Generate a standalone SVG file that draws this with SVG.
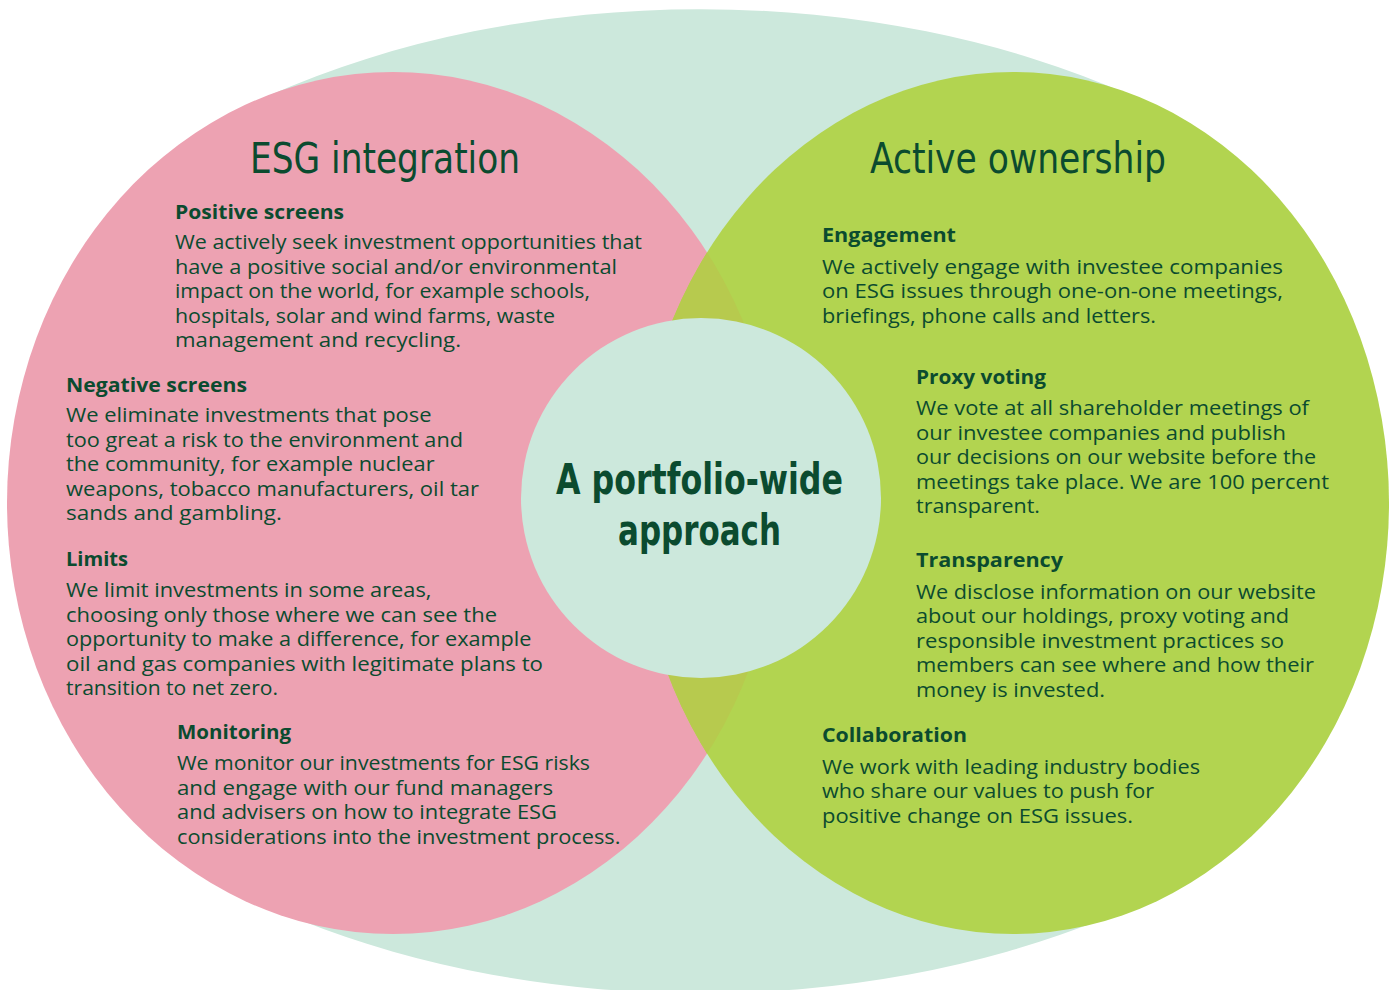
<svg xmlns="http://www.w3.org/2000/svg" width="1396" height="990" viewBox="0 0 1396 990">
  <defs>
    <style>
      .title { font-family: 'DejaVu Sans Condensed', 'DejaVu Sans', sans-serif; font-stretch: condensed; font-size: 43px; fill: #0b4b2f; }
      .center { font-family: 'DejaVu Sans Condensed', 'DejaVu Sans', sans-serif; font-stretch: condensed; font-weight: bold; font-size: 43px; fill: #0b4b2f; }
      .hd { font-family: 'Open Sans', 'Noto Sans', sans-serif; font-weight: 700; font-size: 20px; fill: #0b4b2f; }
      .bd { font-family: 'Open Sans', 'Noto Sans', sans-serif; font-weight: 400; font-size: 20px; fill: #0b4b2f; }
    </style>
    <clipPath id="greenClip">
      <ellipse cx="1013" cy="503" rx="376" ry="431"/>
    </clipPath>
  </defs>

  <rect x="0" y="0" width="1396" height="990" fill="#ffffff"/>

  <g id="background">
    <path d="M 268 96 A 760 490 0 0 1 1132 96 L 1090 300 L 1090 800 L 1100 920 A 760 490 0 0 1 300 920 L 320 800 L 320 300 Z" fill="#cce8dc"/>
  </g>

  <g id="esg-integration">
    <ellipse cx="393" cy="503" rx="386" ry="431" fill="#eda2b2"/>
  </g>

  <g id="active-ownership">
    <ellipse cx="1013" cy="503" rx="376" ry="431" fill="#b2d450"/>
  </g>

  <g id="overlap">
    <ellipse cx="393" cy="503" rx="386" ry="431" fill="#b7ca4e" clip-path="url(#greenClip)"/>
  </g>

  <g id="portfolio-wide">
    <circle cx="701" cy="498" r="180" fill="#cce8dc"/>
    <text class="center" x="556" y="494" textLength="287" lengthAdjust="spacingAndGlyphs">A portfolio-wide</text>
    <text class="center" x="618" y="545" textLength="163" lengthAdjust="spacingAndGlyphs">approach</text>
  </g>

  <g id="esg-integration-text">
    <text class="title" x="250" y="173" textLength="270" lengthAdjust="spacingAndGlyphs">ESG integration</text>

    <g id="positive-screens">
      <text class="hd" x="175" y="219" textLength="169" lengthAdjust="spacingAndGlyphs">Positive screens</text>
      <text class="bd" x="175" y="249" textLength="467" lengthAdjust="spacingAndGlyphs">We actively seek investment opportunities that</text>
      <text class="bd" x="175" y="273.6" textLength="442" lengthAdjust="spacingAndGlyphs">have a positive social and/or environmental</text>
      <text class="bd" x="175" y="298.2" textLength="415" lengthAdjust="spacingAndGlyphs">impact on the world, for example schools,</text>
      <text class="bd" x="175" y="322.8" textLength="380" lengthAdjust="spacingAndGlyphs">hospitals, solar and wind farms, waste</text>
      <text class="bd" x="175" y="347.4" textLength="286" lengthAdjust="spacingAndGlyphs">management and recycling.</text>
    </g>

    <g id="negative-screens">
      <text class="hd" x="66" y="392" textLength="181" lengthAdjust="spacingAndGlyphs">Negative screens</text>
      <text class="bd" x="66" y="422" textLength="365.5" lengthAdjust="spacingAndGlyphs">We eliminate investments that pose</text>
      <text class="bd" x="66" y="446.6" textLength="397" lengthAdjust="spacingAndGlyphs">too great a risk to the environment and</text>
      <text class="bd" x="66" y="471.2" textLength="368.6" lengthAdjust="spacingAndGlyphs">the community, for example nuclear</text>
      <text class="bd" x="66" y="495.8" textLength="413" lengthAdjust="spacingAndGlyphs">weapons, tobacco manufacturers, oil tar</text>
      <text class="bd" x="66" y="520.4" textLength="216" lengthAdjust="spacingAndGlyphs">sands and gambling.</text>
    </g>

    <g id="limits">
      <text class="hd" x="66" y="566" textLength="62" lengthAdjust="spacingAndGlyphs">Limits</text>
      <text class="bd" x="66" y="597" textLength="365.5" lengthAdjust="spacingAndGlyphs">We limit investments in some areas,</text>
      <text class="bd" x="66" y="621.6" textLength="431" lengthAdjust="spacingAndGlyphs">choosing only those where we can see the</text>
      <text class="bd" x="66" y="646.2" textLength="465.5" lengthAdjust="spacingAndGlyphs">opportunity to make a difference, for example</text>
      <text class="bd" x="66" y="670.8" textLength="477" lengthAdjust="spacingAndGlyphs">oil and gas companies with legitimate plans to</text>
      <text class="bd" x="66" y="695.4" textLength="212" lengthAdjust="spacingAndGlyphs">transition to net zero.</text>
    </g>

    <g id="monitoring">
      <text class="hd" x="177" y="739" textLength="114" lengthAdjust="spacingAndGlyphs">Monitoring</text>
      <text class="bd" x="177" y="770" textLength="413" lengthAdjust="spacingAndGlyphs">We monitor our investments for ESG risks</text>
      <text class="bd" x="177" y="794.6" textLength="376" lengthAdjust="spacingAndGlyphs">and engage with our fund managers</text>
      <text class="bd" x="177" y="819.2" textLength="380" lengthAdjust="spacingAndGlyphs">and advisers on how to integrate ESG</text>
      <text class="bd" x="177" y="843.8" textLength="443.5" lengthAdjust="spacingAndGlyphs">considerations into the investment process.</text>
    </g>
  </g>

  <g id="active-ownership-text">
    <text class="title" x="870" y="173" textLength="296" lengthAdjust="spacingAndGlyphs">Active ownership</text>

    <g id="engagement">
      <text class="hd" x="822" y="242" textLength="134" lengthAdjust="spacingAndGlyphs">Engagement</text>
      <text class="bd" x="822" y="273.5" textLength="461" lengthAdjust="spacingAndGlyphs">We actively engage with investee companies</text>
      <text class="bd" x="822" y="298" textLength="461" lengthAdjust="spacingAndGlyphs">on ESG issues through one-on-one meetings,</text>
      <text class="bd" x="822" y="322.6" textLength="334" lengthAdjust="spacingAndGlyphs">briefings, phone calls and letters.</text>
    </g>

    <g id="proxy-voting">
      <text class="hd" x="916" y="383.5" textLength="130" lengthAdjust="spacingAndGlyphs">Proxy voting</text>
      <text class="bd" x="916" y="415" textLength="393" lengthAdjust="spacingAndGlyphs">We vote at all shareholder meetings of</text>
      <text class="bd" x="916" y="439.5" textLength="370" lengthAdjust="spacingAndGlyphs">our investee companies and publish</text>
      <text class="bd" x="916" y="464" textLength="400" lengthAdjust="spacingAndGlyphs">our decisions on our website before the</text>
      <text class="bd" x="916" y="488.6" textLength="413" lengthAdjust="spacingAndGlyphs">meetings take place. We are 100 percent</text>
      <text class="bd" x="916" y="513.2" textLength="124" lengthAdjust="spacingAndGlyphs">transparent.</text>
    </g>

    <g id="transparency">
      <text class="hd" x="916" y="567" textLength="147" lengthAdjust="spacingAndGlyphs">Transparency</text>
      <text class="bd" x="916" y="598.5" textLength="400" lengthAdjust="spacingAndGlyphs">We disclose information on our website</text>
      <text class="bd" x="916" y="623" textLength="373" lengthAdjust="spacingAndGlyphs">about our holdings, proxy voting and</text>
      <text class="bd" x="916" y="647.5" textLength="368" lengthAdjust="spacingAndGlyphs">responsible investment practices so</text>
      <text class="bd" x="916" y="672" textLength="398" lengthAdjust="spacingAndGlyphs">members can see where and how their</text>
      <text class="bd" x="916" y="696.5" textLength="189" lengthAdjust="spacingAndGlyphs">money is invested.</text>
    </g>

    <g id="collaboration">
      <text class="hd" x="822" y="742" textLength="145" lengthAdjust="spacingAndGlyphs">Collaboration</text>
      <text class="bd" x="822" y="773.5" textLength="378" lengthAdjust="spacingAndGlyphs">We work with leading industry bodies</text>
      <text class="bd" x="822" y="798" textLength="332" lengthAdjust="spacingAndGlyphs">who share our values to push for</text>
      <text class="bd" x="822" y="822.6" textLength="311" lengthAdjust="spacingAndGlyphs">positive change on ESG issues.</text>
    </g>
  </g>

  <g id="connectors"/>
</svg>
